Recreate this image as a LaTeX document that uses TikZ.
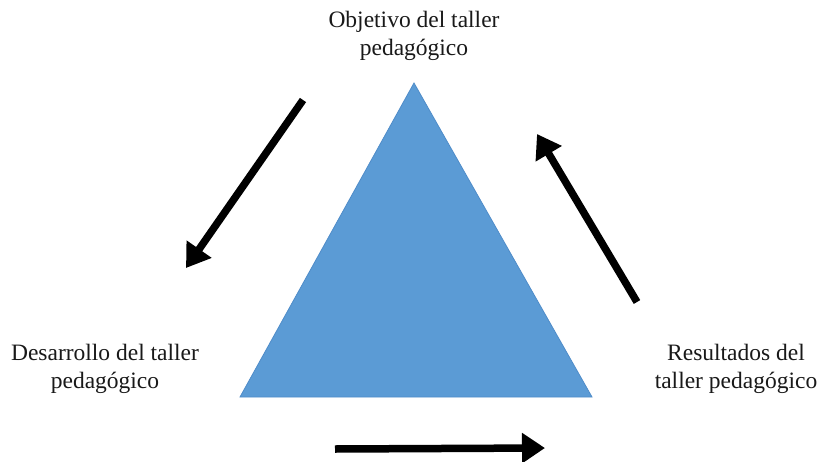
\documentclass[tikz,border=0pt]{standalone}
\usepackage{fontspec}
\setmainfont{Liberation Serif}
\usetikzlibrary{arrows.meta}
\definecolor{triblue}{HTML}{5B9BD5}
\definecolor{triedge}{HTML}{4F8CC9}
\tikzset{
  lbl/.style={align=center, font=\fontsize{23.5}{28}\selectfont, inner sep=0pt, text=black!90},
  bigarrow/.style={line width=7.5pt, -{Triangle[length=23pt,width=29pt]}, black},
}
\begin{document}
\begin{tikzpicture}[x=1pt,y=-1pt]
\useasboundingbox (0,0) rectangle (825,461);
% triangle
\coordinate (apex) at (414,83);
\coordinate (bl) at (240,397);
\coordinate (br) at (592,397);
\fill[triblue, draw=triedge, line width=0.8pt] (apex) -- (br) -- (bl) -- cycle;
% labels
\node[lbl] (top) at (414,36) {Objetivo del taller\\pedagógico};
\node[lbl] (left) at (105,369) {Desarrollo del taller\\pedagógico};
\node[lbl] (right) at (736,369) {Resultados del\\taller pedagógico};
% arrows
\coordinate (a1s) at (303,100);
\coordinate (a1e) at (186,268);
\coordinate (a2s) at (637,302);
\coordinate (a2e) at (537,134);
\coordinate (a3s) at (335,449);
\coordinate (a3e) at (545,448);
\draw[bigarrow] (a1s) -- (a1e);
\draw[bigarrow] (a2s) -- (a2e);
\draw[bigarrow] (a3s) -- (a3e);
\end{tikzpicture}
\end{document}
